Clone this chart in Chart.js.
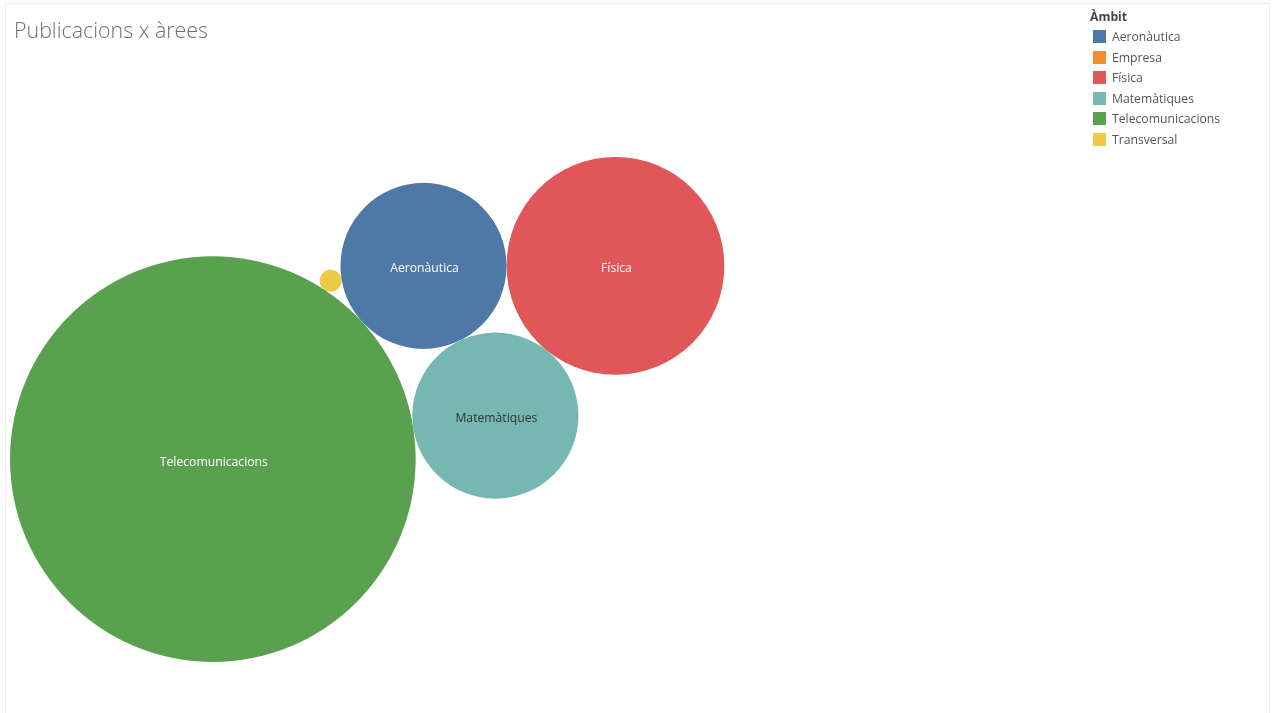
<!DOCTYPE html>
<html>
<head>
<meta charset="utf-8">
<title>Publicacions x àrees</title>
<script src="https://cdn.jsdelivr.net/npm/chart.js@4.4.1/dist/chart.umd.min.js"></script>
<style>
    html, body { margin: 0; padding: 0; background: #fff; }
    #wrap { position: relative; width: 1273px; height: 713px; overflow: hidden; }
    #frame { position: absolute; left: 5px; top: 3px; width: 1265px; height: 730px; border: 1px solid #ececec; box-sizing: border-box; }
    #chart-box { position: absolute; left: 0; top: 0; width: 1273px; height: 713px; }
    #title { position: absolute; left: 14px; top: 15px; font-family: "Open Sans", sans-serif; font-weight: 300; font-size: 21.4px; color: #6e6e6e; white-space: nowrap; }
    #legend { position: absolute; left: 1090px; top: 9px; font-family: "Open Sans", sans-serif; font-size: 12.2px; color: #555; }
    #legend .head { font-weight: bold; color: #444; height: 18px; line-height: 16px; }
    #legend .item { position: relative; height: 20.6px; line-height: 20px; padding-left: 22px; white-space: nowrap; }
    #legend .item span { position: absolute; left: 3px; top: 3px; width: 13px; height: 13px; }
</style>
</head>
<body>
<div id="wrap">
    <div id="frame"></div>
    <div id="chart-box"><canvas id="myChart"></canvas></div>
    <div id="title">Publicacions x àrees</div>
    <div id="legend"></div>
</div>
<script>
(function () {
    // data (alphabetical, same order as the legend)
    var categories = ['Aeronàutica', 'Empresa', 'Física', 'Matemàtiques', 'Telecomunicacions', 'Transversal'];
    var publications = [57, 0, 98, 57, 340, 1];
    var colors = ['#4e79a7', '#f28e2b', '#e15759', '#76b7b2', '#59a14f', '#edc948'];
    var legendTitle = 'Àmbit';

    var sizeScale = 11;      // px of radius per sqrt(publication)
    var packLeftPx = 10;     // where the packed bubbles start in the view
    var packTopPx = 157;
    var minLabelRadius = 40; // smaller bubbles get no label

    // legend
    var legend = document.getElementById('legend');
    var html = '<div class="head">' + legendTitle + '</div>';
    for (var i = 0; i < categories.length; i++) {
        html += '<div class="item"><span style="background:' + colors[i] + '"></span>' + categories[i] + '</div>';
    }
    legend.innerHTML = html;

    // circle tangent to a and b, on one side of the line a -> b
    function tangent(a, b, r, side) {
        var dx = b.x - a.x, dy = b.y - a.y;
        var d = Math.sqrt(dx * dx + dy * dy);
        var da = a.r + r, db = b.r + r;
        var along = (da * da - db * db + d * d) / (2 * d);
        var h = Math.sqrt(Math.max(0, da * da - along * along));
        var ux = dx / d, uy = dy / d;
        return { x: a.x + ux * along - uy * h * side, y: a.y + uy * along + ux * h * side, r: r };
    }

    function overlaps(c, placed) {
        for (var k = 0; k < placed.length; k++) {
            var p = placed[k];
            var dist = Math.sqrt((c.x - p.x) * (c.x - p.x) + (c.y - p.y) * (c.y - p.y));
            if (dist < c.r + p.r - 0.01) return true;
        }
        return false;
    }

    // pack: first bubble in the middle, the rest go round it clockwise,
    // each one touching the first bubble and the previous one
    function packBubbles(radii) {
        var placed = [];
        var pos = [];
        for (var i = 0; i < radii.length; i++) {
            var r = radii[i];
            pos.push(null);
            if (!(r > 0)) continue;
            var c;
            if (placed.length === 0) {
                c = { x: 0, y: 0, r: r };
            } else if (placed.length === 1) {
                c = { x: placed[0].x + placed[0].r + r, y: placed[0].y, r: r };
            } else {
                c = tangent(placed[0], placed[placed.length - 1], r, 1);
                if (overlaps(c, placed)) {
                    var best = null, bestD = Infinity;
                    for (var p = 0; p < placed.length; p++) {
                        for (var q = p + 1; q < placed.length; q++) {
                            [1, -1].forEach(function (s) {
                                var t = tangent(placed[p], placed[q], r, s);
                                var dd = t.x * t.x + t.y * t.y;
                                if (!overlaps(t, placed) && dd < bestD) { best = t; bestD = dd; }
                            });
                        }
                    }
                    c = best;
                }
            }
            placed.push(c);
            pos[i] = c;
        }
        return pos;
    }

    var radii = publications.map(function (v) { return sizeScale * Math.sqrt(v); });
    var packed = packBubbles(radii);

    var left = Infinity, top = Infinity;
    packed.forEach(function (c) {
        if (!c) return;
        left = Math.min(left, c.x - c.r);
        top = Math.min(top, c.y - c.r);
    });

    var box = document.getElementById('chart-box');
    var width = box.clientWidth, height = box.clientHeight;
    var xMin = left - packLeftPx, yMin = top - packTopPx;

    var datasets = [];
    categories.forEach(function (name, i) {
        if (!packed[i]) return;
        datasets.push({
            label: name,
            data: [{ x: packed[i].x, y: packed[i].y, r: packed[i].r, v: publications[i] }],
            backgroundColor: colors[i],
            borderWidth: 0,
            hoverBorderWidth: 0,
            hoverRadius: 0
        });
    });

    function textColor(hex) {
        var n = parseInt(hex.slice(1), 16);
        var lum = 0.299 * (n >> 16) + 0.587 * ((n >> 8) & 255) + 0.114 * (n & 255);
        return lum > 150 ? '#333333' : '#ffffff';
    }

    var bubbleLabels = {
        id: 'bubbleLabels',
        afterDatasetsDraw: function (chart) {
            var ctx = chart.ctx;
            ctx.save();
            ctx.font = '12.2px "Open Sans", sans-serif';
            ctx.textAlign = 'center';
            ctx.textBaseline = 'middle';
            chart.data.datasets.forEach(function (ds, i) {
                var el = chart.getDatasetMeta(i).data[0];
                if (!el || ds.data[0].r < minLabelRadius) return;
                ctx.fillStyle = textColor(ds.backgroundColor);
                ctx.fillText(ds.label, el.x + 1, el.y + 3);
            });
            ctx.restore();
        }
    };

    var ctx = document.getElementById('myChart').getContext('2d');
    var myChart = new Chart(ctx, {
        type: 'bubble',
        data: { datasets: datasets },
        options: {
            responsive: true,
            maintainAspectRatio: false,
            animation: false,
            events: [],
            layout: { padding: 0, autoPadding: false },
            plugins: { legend: { display: false }, tooltip: { enabled: false } },
            scales: {
                x: { type: 'linear', display: false, min: xMin, max: xMin + width },
                y: { type: 'linear', display: false, reverse: true, min: yMin, max: yMin + height }
            }
        },
        plugins: [bubbleLabels]
    });
})();
</script>
</body>
</html>
